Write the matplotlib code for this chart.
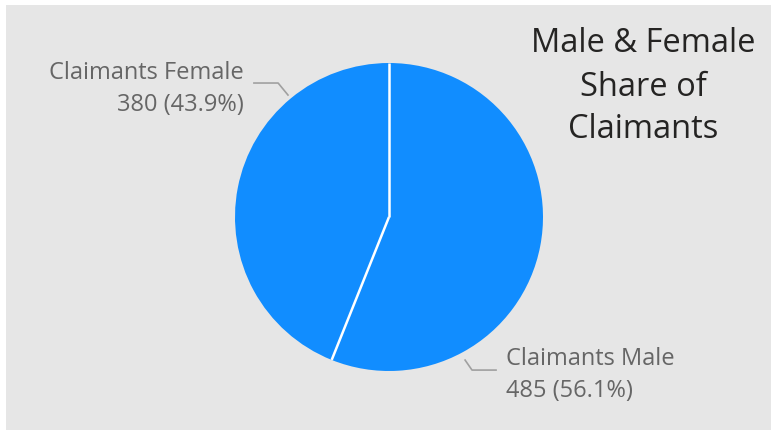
import numpy as np
import matplotlib.pyplot as plt
from matplotlib.patches import Rectangle

categories = ['Claimants Male', 'Claimants Female']
values = [485, 380]
colors = ['#118DFF', '#118DFF']

plt.rcParams['font.family'] = ['Open Sans', 'DejaVu Sans']

W, H = 771, 430
fig = plt.figure(figsize=(W / 100, H / 100), dpi=100)
fig.patch.set_facecolor('white')
# gray card background
fig.patches.append(Rectangle((6 / W, 0), 1, 1 - 5 / H, transform=fig.transFigure,
                             facecolor='#e6e6e6', edgecolor='none', zorder=-10))

cx, cy, r = 389, 217, 154
ax = fig.add_axes([(cx - r) / W, (H - cy - r) / H, 2 * r / W, 2 * r / H])
ax.set_axis_off()
wedges, _ = ax.pie(values, colors=colors, startangle=90, counterclock=False, radius=1,
                   wedgeprops=dict(edgecolor='none'))
# white separators between slices
for w in wedges:
    a = np.deg2rad(w.theta1)
    ax.plot([0, np.cos(a)], [0, np.sin(a)], color='white', lw=1.8, solid_capstyle='butt')
ax.set_xlim(-1, 1)
ax.set_ylim(-1, 1)

total = sum(values)
labels = ['%s\n%d (%.1f%%)' % (c, v, v / total * 100) for c, v in zip(categories, values)]

# leader lines (start, elbow, end) and label positions
leaders = [
    [(0.494, -0.929), (0.539, -0.994), (0.695, -0.994)],
    [(-0.656, 0.792), (-0.72, 0.87), (-0.877, 0.87)],
]
label_pos = [((0.76, -1.025), 'left'), ((-0.94, 0.83), 'right')]
for pts, lab, (pos, ha) in zip(leaders, labels, label_pos):
    xs, ys = zip(*pts)
    ax.plot(xs, ys, color='#a0a0a0', lw=1.2, clip_on=False)
    ax.text(pos[0], pos[1], lab, ha=ha, va='center', fontsize=17,
            color='#666666', linespacing=1.45, clip_on=False)

fig.text(643 / W, 1 - 87 / H, 'Male & Female\nShare of\nClaimants', ha='center',
         va='center', fontsize=23.5, color='#252423', linespacing=1.4)

fig.savefig('out.png', dpi=100)
